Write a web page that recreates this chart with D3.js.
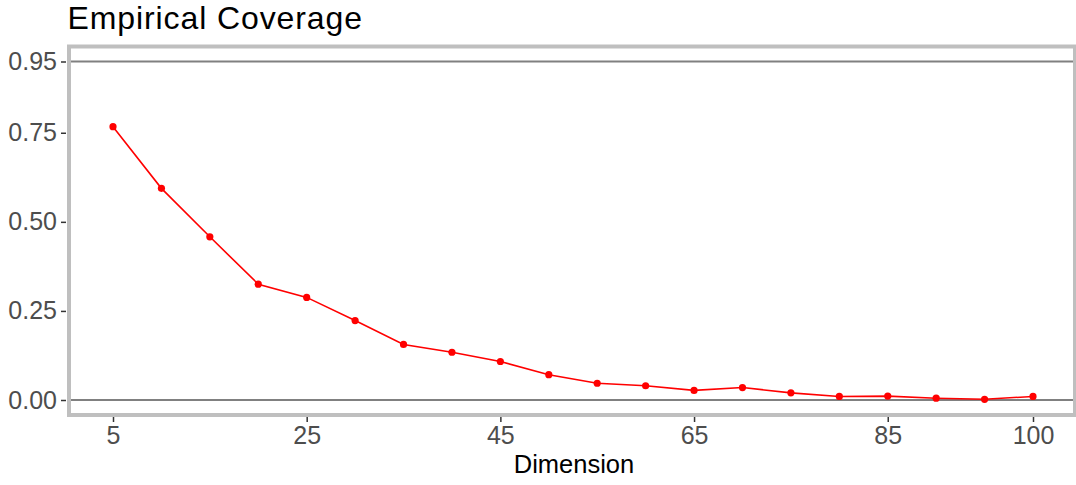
<!DOCTYPE html>
<html>
<head>
<meta charset="utf-8">
<script src="https://cdn.jsdelivr.net/npm/d3@7"></script>
<style>
  body { margin: 0; background: #fff; }
  text { font-family: "Liberation Sans", Arial, sans-serif; }
</style>
</head>
<body>
<div id="chart"></div>
<script>
// data
var dims = [5, 10, 15, 20, 25, 30, 35, 40, 45, 50, 55, 60, 65, 70, 75, 80, 85, 90, 95, 100];
var coverage = [0.767, 0.594, 0.458, 0.325, 0.288, 0.223, 0.156, 0.134, 0.108, 0.071,
                0.047, 0.040, 0.027, 0.035, 0.020, 0.010, 0.011, 0.005, 0.002, 0.010];
var xTicks = [5, 25, 45, 65, 85, 100];
var yTicks = [0, 0.25, 0.5, 0.75, 0.95];
var refLines = [0, 0.95];

var width = 1076, height = 485;
var panel = {left: 69, right: 1075, top: 46.5, bottom: 415};

var svg = d3.select("#chart").append("svg")
    .attr("width", width)
    .attr("height", height);

// scales (ggplot style 5% expansion)
var x = d3.scaleLinear().domain([5, 100]).range([113, 1033]);
var y = d3.scaleLinear().domain([0, 0.95]).range([400, 61.5]);

// panel border
svg.append("rect")
    .attr("x", panel.left).attr("y", panel.top)
    .attr("width", panel.right - panel.left)
    .attr("height", panel.bottom - panel.top)
    .attr("fill", "none")
    .attr("stroke", "#bfbfbf")
    .attr("stroke-width", 4);

// reference lines
svg.selectAll(".ref").data(refLines).enter().append("line")
    .attr("x1", panel.left + 2).attr("x2", panel.right - 2)
    .attr("y1", d => y(d)).attr("y2", d => y(d))
    .attr("stroke", "#808080")
    .attr("stroke-width", 2);

// axes
var yAxis = d3.axisLeft(y).tickValues(yTicks).tickFormat(d3.format(".2f"))
    .tickSizeOuter(0).tickSizeInner(5).tickPadding(4);
var gy = svg.append("g")
    .attr("transform", "translate(" + (panel.left - 3) + ",0)")
    .call(yAxis);

var xAxis = d3.axisBottom(x).tickValues(xTicks).tickFormat(d3.format("d"))
    .tickSizeOuter(0).tickSizeInner(5).tickPadding(4);
var gx = svg.append("g")
    .attr("transform", "translate(0," + (panel.bottom + 2) + ")")
    .call(xAxis);

[gx, gy].forEach(function (g) {
    g.select(".domain").remove();
    g.selectAll(".tick line").attr("stroke", "#333333").attr("stroke-width", 1.5);
    g.selectAll(".tick text")
        .attr("fill", "#4d4d4d")
        .style("font-size", "25px");
});

// line + points
var line = d3.line()
    .x((d, i) => x(dims[i]))
    .y(d => y(d));

svg.append("path")
    .datum(coverage)
    .attr("d", line)
    .attr("fill", "none")
    .attr("stroke", "#ff0000")
    .attr("stroke-width", 1.6);

svg.selectAll(".pt").data(coverage).enter().append("circle")
    .attr("cx", (d, i) => x(dims[i]))
    .attr("cy", d => y(d))
    .attr("r", 3.6)
    .attr("fill", "#ff0000");

// title + axis label
svg.append("text")
    .attr("x", 67.5).attr("y", 29)
    .style("font-size", "32px")
    .style("letter-spacing", "0.9px")
    .attr("fill", "#000")
    .text("Empirical Coverage");

svg.append("text")
    .attr("x", 574).attr("y", 473)
    .attr("text-anchor", "middle")
    .style("font-size", "25.5px")
    .attr("fill", "#000")
    .text("Dimension");
</script>
</body>
</html>
